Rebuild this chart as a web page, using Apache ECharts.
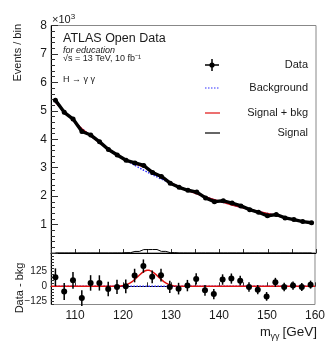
<!DOCTYPE html>
<html>
<head>
<meta charset="utf-8">
<script src="https://cdn.jsdelivr.net/npm/echarts@6/dist/echarts.min.js"></script>
<style>
  html, body { margin: 0; padding: 0; background: #fff; }
  #chart { width: 328px; height: 342px; }
</style>
</head>
<body>
<div id="chart"></div>
<script>
// 30 bins of 55/30 GeV between 105 and 160
const binCenters = [105.92, 107.75, 109.58, 111.42, 113.25, 115.08, 116.92, 118.75, 120.58, 122.42,
  124.25, 126.08, 127.92, 129.75, 131.58, 133.42, 135.25, 137.08, 138.92, 140.75,
  142.58, 144.42, 146.25, 148.08, 149.92, 151.75, 153.58, 155.42, 157.25, 159.08];

const events = [5375, 4948, 4710, 4273, 4148, 3908, 3638, 3445, 3260, 3169,
  3077, 2828, 2692, 2455, 2311, 2206, 2141, 1937, 1806, 1836,
  1754, 1657, 1525, 1432, 1307, 1353, 1235, 1176, 1105, 1064];
const eventErr = [73, 70, 69, 65, 64, 63, 60, 59, 57, 56,
  55, 53, 52, 50, 48, 47, 46, 44, 42, 43,
  42, 41, 39, 38, 36, 37, 35, 34, 33, 33];
const background = [5300, 4990, 4660, 4370, 4120, 3880, 3660, 3450, 3260, 3080,
  2910, 2750, 2600, 2460, 2330, 2200, 2080, 1970, 1870, 1780,
  1690, 1610, 1530, 1460, 1390, 1320, 1240, 1170, 1110, 1050];
const signalHist = [0, 0, 0, 0, 0, 0, 0, 1, 12, 55,
  120, 122, 57, 13, 1, 0, 0, 0, 0, 0,
  0, 0, 0, 0, 0, 0, 0, 0, 0, 0];

// fitted signal shape for the residual panel
const sigMass = [105, 117, 118, 119, 119.5, 120, 120.5, 121, 121.5, 122, 122.5, 123, 123.5, 124, 124.5,
  125, 125.5, 126, 126.5, 127, 127.5, 128, 128.5, 129, 129.5, 130, 130.5, 131, 132, 133, 160];
const sigFit = [0, 0, 0.4, 1.7, 3.4, 6.2, 10.9, 18, 28.2, 41.6, 58.2, 76.8, 95.8, 113, 125.8,
  132.4, 131.7, 123.7, 109.8, 92.1, 73, 54.7, 38.7, 25.9, 16.4, 9.8, 5.5, 2.9, 0.7, 0, 0];

const xTicks = [110, 120, 130, 140, 150, 160];
const resTicks = [-125, 0, 125];

const FONT = '"Liberation Sans", Arial, sans-serif';
const INK = '#1a1a1a';

const topData = binCenters.map((x, i) => [x, events[i], eventErr[i]]);
const resData = binCenters.map((x, i) => [x, events[i] - background[i], eventErr[i]]);

function errorBars(r) {
  return function (params, api) {
    const x = api.value(0), y = api.value(1), e = api.value(2);
    const c = api.coord([x, y]);
    const lo = api.coord([x, y - e]);
    const hi = api.coord([x, y + e]);
    return { type: 'group', children: [
      { type: 'line', shape: { x1: lo[0], y1: lo[1], x2: hi[0], y2: hi[1] }, style: { stroke: '#000', lineWidth: 1.5 } },
      { type: 'circle', shape: { cx: c[0], cy: c[1], r: r }, style: { fill: '#000' } },
    ] };
  };
}

const chart = echarts.init(document.getElementById('chart'), null, { renderer: 'canvas' });

const legendY = [65, 88, 113, 133];
const legendText = ['Data', 'Background', 'Signal + bkg', 'Signal'];

chart.setOption({
  animation: false,
  textStyle: { fontFamily: FONT },
  grid: [
    { left: 51, top: 25.5, width: 265, height: 227.5, show: true, borderColor: '#888', borderWidth: 1 },
    { left: 51, top: 253, width: 265, height: 51.5, show: true, borderColor: '#888', borderWidth: 1 },
  ],
  xAxis: [
    {
      gridIndex: 0, type: 'value', min: 105, max: 160, interval: 5,
      axisLine: { lineStyle: { color: '#000' } },
      axisTick: { inside: true, length: 4, lineStyle: { color: '#333' } },
      axisLabel: { show: false }, splitLine: { show: false },
    },
    {
      gridIndex: 1, type: 'value', min: 105, max: 160, interval: 5,
      axisLine: { lineStyle: { color: '#000' } },
      axisTick: { inside: true, length: 4, lineStyle: { color: '#333' } },
      axisLabel: {
        fontSize: 12, color: INK, margin: 5,
        formatter: (v) => xTicks.includes(v) ? String(v) : '',
      },
      splitLine: { show: false },
    },
  ],
  yAxis: [
    {
      gridIndex: 0, type: 'value', min: 0, max: 8000, interval: 1000,
      axisLine: { show: true, lineStyle: { color: '#000' } },
      axisTick: { inside: true, length: 7, lineStyle: { color: '#333' } },
      minorTick: { show: true, splitNumber: 5, length: 4, lineStyle: { color: '#333' } },
      axisLabel: {
        fontSize: 12, color: INK, margin: 4, showMaxLabel: true,
        formatter: (v) => v === 0 ? '' : String(v / 1000),
      },
      splitLine: { show: false },
    },
    {
      gridIndex: 1, type: 'value', min: -150, max: 275, interval: 25,
      axisLine: { show: true, lineStyle: { color: '#000' } },
      axisTick: { inside: true, length: 3, lineStyle: { color: '#333' } },
      axisLabel: {
        fontSize: 10, color: INK, margin: 4,
        formatter: (v) => resTicks.includes(v) ? String(v).replace('-', '\u2212') : '',
      },
      splitLine: { show: false },
    },
  ],
  series: [
    {
      name: 'Background', type: 'line', xAxisIndex: 0, yAxisIndex: 0, symbol: 'none',
      lineStyle: { color: '#3030ff', width: 1.5, type: 'dotted' },
      data: binCenters.map((x, i) => [x, background[i]]),
    },
    {
      name: 'Signal + bkg', type: 'line', xAxisIndex: 0, yAxisIndex: 0, symbol: 'none',
      lineStyle: { color: '#e01010', width: 1.5 },
      data: binCenters.map((x, i) => [x, background[i] + signalHist[i]]),
    },
    {
      name: 'Signal', type: 'line', step: 'middle', xAxisIndex: 0, yAxisIndex: 0, symbol: 'none',
      lineStyle: { color: '#000', width: 1 },
      data: binCenters.map((x, i) => [x, signalHist[i]]),
    },
    {
      name: 'Data line', type: 'line', xAxisIndex: 0, yAxisIndex: 0, symbol: 'none', z: 4,
      lineStyle: { color: '#000', width: 3.4, cap: 'round', join: 'round' },
      data: binCenters.map((x, i) => [x, events[i]]),
    },
    {
      name: 'Data', type: 'custom', xAxisIndex: 0, yAxisIndex: 0,
      renderItem: errorBars(2.5), encode: { x: 0, y: 1 }, data: topData, z: 5,
    },
    {
      name: 'Background (res)', type: 'line', xAxisIndex: 1, yAxisIndex: 1, symbol: 'none',
      lineStyle: { color: '#3030ff', width: 1.5, type: 'dotted' },
      data: binCenters.map((x) => [x, 0]),
    },
    {
      name: 'Signal + bkg (res)', type: 'line', xAxisIndex: 1, yAxisIndex: 1, symbol: 'none',
      lineStyle: { color: '#e01010', width: 1.5 },
      data: sigMass.map((x, i) => [x, sigFit[i]]),
    },
    {
      name: 'Data (res)', type: 'custom', xAxisIndex: 1, yAxisIndex: 1,
      renderItem: errorBars(3), encode: { x: 0, y: 1 }, data: resData, z: 5,
    },
  ],
  graphic: [
    // axis titles
    { type: 'text', x: 18, y: 24, rotation: Math.PI / 2,
      style: { text: 'Events / bin', font: '11px ' + FONT, fill: INK, align: 'right', verticalAlign: 'middle' } },
    { type: 'text', x: 20, y: 288, rotation: Math.PI / 2,
      style: { text: 'Data - bkg', font: '11px ' + FONT, fill: INK, align: 'center', verticalAlign: 'middle' } },
    { type: 'text', x: 52, y: 20,
      style: { text: '\u00d710{s|3}', font: '11px ' + FONT, fill: INK, align: 'left', verticalAlign: 'middle',
        rich: { s: { fontSize: 8, fontFamily: FONT, fill: INK, verticalAlign: 'top', padding: [0, 0, 6, 0] } } } },
    { type: 'text', x: 260, y: 332,
      style: { text: 'm', font: '13px ' + FONT, fill: INK, align: 'left', verticalAlign: 'middle' } },
    { type: 'text', x: 270.5, y: 337,
      style: { text: '\u03b3\u03b3', font: '9px ' + FONT, fill: INK, align: 'left', verticalAlign: 'middle' } },
    { type: 'text', x: 317, y: 332,
      style: { text: '[GeV]', font: '13.5px ' + FONT, fill: INK, align: 'right', verticalAlign: 'middle' } },
    // ATLAS label
    { type: 'text', x: 63, y: 39,
      style: { text: 'ATLAS Open Data', font: '12.5px ' + FONT, fill: INK, align: 'left', verticalAlign: 'middle' } },
    { type: 'text', x: 63, y: 50,
      style: { text: 'for education', font: 'italic 9px ' + FONT, fill: INK, align: 'left', verticalAlign: 'middle' } },
    { type: 'text', x: 63, y: 59,
      style: { text: '\u221as = 13 TeV, 10 fb\u207b\u00b9', font: '9px ' + FONT, fill: INK, align: 'left', verticalAlign: 'middle' } },
    { type: 'text', x: 63, y: 80,
      style: { text: 'H \u2192 \u03b3 \u03b3', font: '9px ' + FONT, fill: INK, align: 'left', verticalAlign: 'middle' } },
    // legend
    { type: 'line', shape: { x1: 205, y1: legendY[0], x2: 219, y2: legendY[0] }, style: { stroke: '#000', lineWidth: 1.5 } },
    { type: 'line', shape: { x1: 212, y1: legendY[0] - 6, x2: 212, y2: legendY[0] + 6 }, style: { stroke: '#000', lineWidth: 1.5 } },
    { type: 'circle', shape: { cx: 212, cy: legendY[0], r: 2.6 }, style: { fill: '#000' } },
    { type: 'line', shape: { x1: 205, y1: legendY[1], x2: 220, y2: legendY[1] }, style: { stroke: '#3030ff', lineWidth: 1.2, lineDash: [1.5, 1.5] } },
    { type: 'line', shape: { x1: 205, y1: legendY[2], x2: 220, y2: legendY[2] }, style: { stroke: '#e01010', lineWidth: 1.2 } },
    { type: 'line', shape: { x1: 205, y1: legendY[3], x2: 220, y2: legendY[3] }, style: { stroke: '#000', lineWidth: 1.2 } },
    ...legendText.map((t, i) => ({ type: 'text', x: 308, y: legendY[i],
      style: { text: t, font: '11px ' + FONT, fill: INK, align: 'right', verticalAlign: 'middle' } })),
  ],
});
</script>
</body>
</html>
